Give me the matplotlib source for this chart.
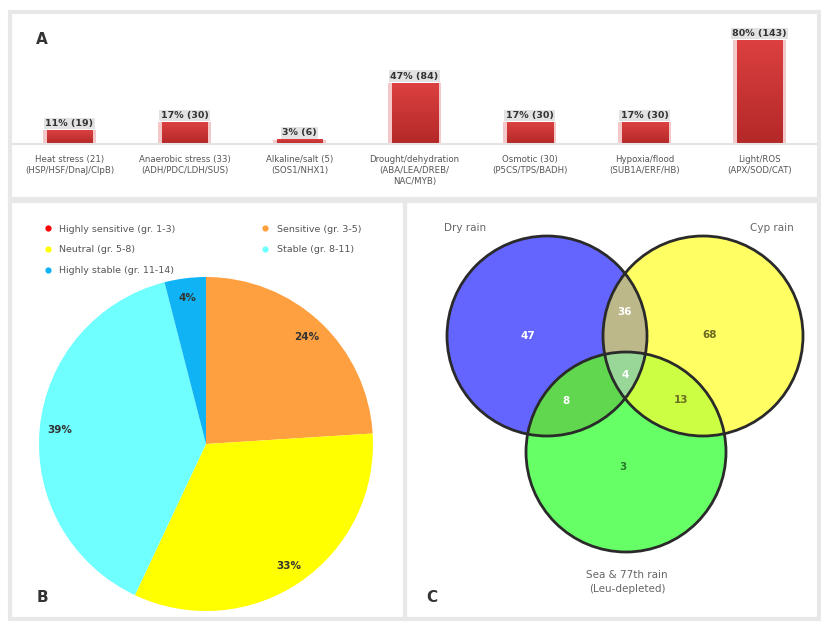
import numpy as np
import matplotlib
matplotlib.use('Agg')
import matplotlib.pyplot as plt
from matplotlib.patches import Rectangle, Circle
from matplotlib.lines import Line2D
from matplotlib.colors import LinearSegmentedColormap

W, H = 821, 623

# Panel A: genes per stress category
categories = [
    'Heat stress (21)\n(HSP/HSF/DnaJ/ClpB)',
    'Anaerobic stress (33)\n(ADH/PDC/LDH/SUS)',
    'Alkaline/salt (5)\n(SOS1/NHX1)',
    'Drought/dehydration\n(ABA/LEA/DREB/\nNAC/MYB)',
    'Osmotic (30)\n(P5CS/TPS/BADH)',
    'Hypoxia/flood\n(SUB1A/ERF/HB)',
    'Light/ROS\n(APX/SOD/CAT)',
]
gene_counts = [19, 30, 6, 84, 30, 30, 143]
total_genes = 179

# Panel B: tolerance groups
group_names = ['Highly sensitive (gr. 1-3)', 'Sensitive (gr. 3-5)', 'Neutral (gr. 5-8)',
               'Stable (gr. 8-11)', 'Highly stable (gr. 11-14)']
group_share = [0, 24, 33, 39, 4]
group_colors = ['#ff0000', '#ffa040', '#ffff00', '#70ffff', '#10b4f4']

# Panel C: overlap of the three screens
set_labels = ['Dry rain', 'Cyp rain', 'Sea & 77th rain\n(Leu-depleted)']
venn_counts = {'A': 47, 'B': 68, 'C': 3, 'AB': 36, 'AC': 8, 'BC': 13, 'ABC': 4}

fig = plt.figure(figsize=(W / 100, H / 100), dpi=100)
fig.patch.set_facecolor('white')


def fig_box(x0, y0, x1, y1):
    return [x0 / W, 1 - y1 / H, (x1 - x0) / W, (y1 - y0) / H]


# light panel frames
for x0, y0, x1, y1 in [(10, 12, 819, 199), (10, 201, 405, 619), (405, 201, 819, 619)]:
    fig.add_artist(Rectangle((x0 / W, 1 - y1 / H), (x1 - x0) / W, (y1 - y0) / H,
                             transform=fig.transFigure, fill=False,
                             ec='#e8e8e8', lw=3))

# ---- A: bar chart ----
ax_a = fig.add_axes(fig_box(12, 25, 817, 144))
x = np.arange(len(categories))
bw = 0.4
red_cmap = LinearSegmentedColormap.from_list('bar', ['#b42828', '#dc4040'])
grad = np.linspace(0, 1, 64).reshape(-1, 1)
for xi, cnt in zip(x, gene_counts):
    ax_a.bar(xi, cnt, width=bw + 0.06, color='#f4c8c8', zorder=1)
    ax_a.imshow(grad, extent=[xi - bw / 2, xi + bw / 2, 0, cnt], origin='lower',
                cmap=red_cmap, aspect='auto', zorder=2)
    pct = round(cnt / total_genes * 100)
    ax_a.text(xi, cnt + 3, f'{pct}% ({cnt})', ha='center', va='bottom', fontsize=6.8,
              fontweight='bold', color='#333333',
              bbox=dict(boxstyle='square,pad=0.15', fc='#e2e2e2', ec='none'))
ax_a.set_xlim(-0.5, len(categories) - 0.5)
ax_a.set_ylim(0, 164)
ax_a.set_xticks(x)
ax_a.set_xticklabels(categories, fontsize=6.2, color='#555555', linespacing=1.25)
ax_a.tick_params(axis='x', length=0, pad=8)
ax_a.set_yticks([])
for s in ['top', 'right', 'left']:
    ax_a.spines[s].set_visible(False)
ax_a.spines['bottom'].set_color('#e4e4e4')
ax_a.spines['bottom'].set_linewidth(1.5)
fig.text(36 / W, 1 - 40 / H, 'A', fontsize=11, fontweight='bold', color='#333333',
         ha='left', va='center')

# ---- B: pie chart ----
ax_b = fig.add_axes(fig_box(39, 277, 373, 611))
ax_b.pie(group_share, colors=group_colors, startangle=90, counterclock=False,
         autopct=lambda p: f'{p:.0f}%' if p > 0.5 else '', pctdistance=0.88,
         textprops=dict(fontsize=7.5, color='#333333', fontweight='bold'),
         wedgeprops=dict(linewidth=0))
ax_b.set_aspect('equal')
ax_b.set_xlim(-1, 1)
ax_b.set_ylim(-1, 1)
ax_b.axis('off')

order = [0, 2, 4, 1, 3]
handles = [Line2D([], [], marker='o', ls='none', ms=4.5, mfc=group_colors[i], mec='none')
           for i in order]
fig.legend(handles, [group_names[i] for i in order], ncol=2, fontsize=6.8,
           frameon=False, loc='upper left', bbox_to_anchor=(30 / W, 1 - 216 / H),
           handletextpad=0.2, columnspacing=8.5, labelspacing=1.25,
           labelcolor='#555555')
fig.text(42 / W, 1 - 598 / H, 'B', fontsize=11, fontweight='bold', color='#333333',
         ha='center', va='center')

# ---- C: Venn diagram ----
ax_c = fig.add_axes(fig_box(405, 201, 819, 619))
circles = {'A': (547, 336, 100), 'B': (703, 336, 100), 'C': (626, 452, 100)}
xs = np.linspace(405, 819, 828)
ys = np.linspace(201, 619, 836)
gx, gy = np.meshgrid(xs, ys)
inside = {k: (gx - cx) ** 2 + (gy - cy) ** 2 <= r ** 2 for k, (cx, cy, r) in circles.items()}
region_colors = {
    'A': '#6464ff', 'B': '#ffff64', 'C': '#66ff66',
    'AB': '#bdb98a', 'AC': '#60d84e', 'BC': '#ccff44', 'ABC': '#9ad89a',
}
img = np.ones(gx.shape + (3,))
for key, col in region_colors.items():
    mask = np.ones(gx.shape, bool)
    for k in 'ABC':
        mask &= inside[k] if k in key else ~inside[k]
    img[mask] = matplotlib.colors.to_rgb(col)
ax_c.imshow(img, extent=[405, 819, 619, 201], origin='upper', interpolation='antialiased')
for cx, cy, r in circles.values():
    ax_c.add_patch(Circle((cx, cy), r, fill=False, ec='#2a2a2a', lw=2))
ax_c.set_xlim(405, 819)
ax_c.set_ylim(619, 201)
ax_c.axis('off')

label_pos = {'A': (528, 336, 'white'), 'B': (710, 335, '#6b6b20'),
             'C': (623, 467, '#2a7a2a'), 'AB': (625, 312, 'white'),
             'AC': (566, 401, 'white'), 'BC': (681, 400, '#6b6b20'),
             'ABC': (625, 375, 'white')}
for key, (lx, ly, col) in label_pos.items():
    ax_c.text(lx, ly, str(venn_counts[key]), ha='center', va='center', fontsize=7.5,
              fontweight='bold', color=col)
ax_c.text(465, 228, set_labels[0], ha='center', va='center', fontsize=7.5, color='#666666')
ax_c.text(772, 228, set_labels[1], ha='center', va='center', fontsize=7.5, color='#666666')
ax_c.text(627, 582, set_labels[2], ha='center', va='center', fontsize=7.5, color='#666666',
          linespacing=1.5)
fig.text(432 / W, 1 - 598 / H, 'C', fontsize=11, fontweight='bold', color='#333333',
         ha='center', va='center')

fig.savefig('out.png', dpi=100, facecolor='white')
